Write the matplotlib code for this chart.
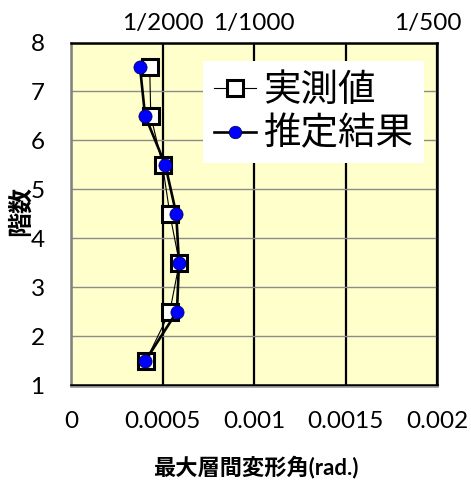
import matplotlib
matplotlib.use("Agg")
import matplotlib.pyplot as plt
from matplotlib.lines import Line2D
from matplotlib.transforms import ScaledTranslation

# Story positions (mid-height of each story) and max inter-story drift angles
story_y = [1.5, 2.5, 3.5, 4.5, 5.5, 6.5, 7.5]
measured = [0.000410, 0.000540, 0.000592, 0.000540, 0.000500, 0.000436, 0.000430]
estimated = [0.000407, 0.000579, 0.000590, 0.000575, 0.000515, 0.000405, 0.000377]

x_ticks = [0, 0.0005, 0.001, 0.0015, 0.002]
x_ticklabels = ["0", "0.0005", "0.001", "0.0015", "0.002"]
top_ticks = [0.0005, 0.001, 0.002]
top_ticklabels = ["1/2000", "1/1000", "1/500"]
y_ticks = [1, 2, 3, 4, 5, 6, 7, 8]

label_measured = "実測値"
label_estimated = "推定結果"
xlabel = "最大層間変形角(rad.)"
ylabel = "階数"

LATIN = ["Lato", "DejaVu Sans"]
CJK = ["Lato", "Noto Sans CJK JP", "DejaVu Sans"]

fig = plt.figure(figsize=(4.71, 4.80), dpi=100)
ax = fig.add_axes([71 / 471, 1 - 385 / 480, 366 / 471, (385 - 42.5) / 480])
ax.set_facecolor("#FFFFCC")

ax.set_xlim(0, 0.002)
ax.set_ylim(1, 8)
ax.set_xticks(x_ticks)
ax.set_xticklabels(x_ticklabels)
ax.set_yticks(y_ticks)
ax.set_yticklabels([str(v) for v in y_ticks])
ax.tick_params(axis="both", length=0, labelsize=17.5, pad=19)
for lab in ax.get_xticklabels() + ax.get_yticklabels():
    lab.set_fontfamily(LATIN)

# grid: black verticals, grey horizontals
ax.xaxis.grid(True, color="black", linewidth=1.6)
ax.yaxis.grid(True, color="#8c8c8c", linewidth=1.0)
ax.set_axisbelow(True)

for side in ("top", "right", "bottom"):
    ax.spines[side].set_color("black")
    ax.spines[side].set_linewidth(1.8)
ax.spines["left"].set_color("#808080")
ax.spines["left"].set_linewidth(1.8)

# thin grey shadow under the plot frame
fig.add_artist(Line2D([71 / 471, 438 / 471], [1 - 387 / 480, 1 - 387 / 480],
                      color="#999999", linewidth=1.2))

ax.plot(measured, story_y, color="black", linewidth=0.8, marker="s",
        markersize=11.5, markerfacecolor="white", markeredgecolor="black",
        markeredgewidth=2.2, label=label_measured, zorder=3)
ax.plot(estimated, story_y, color="black", linewidth=1.9, marker="o",
        markersize=9.5, markerfacecolor="#0000FF", markeredgecolor="#000040",
        markeredgewidth=0.5, label=label_estimated, zorder=4)

# secondary scale on top expressed as drift ratios
top = ax.twiny()
top.set_xlim(ax.get_xlim())
top.set_xticks(top_ticks)
top.set_xticklabels(top_ticklabels)
top.tick_params(axis="x", length=0, labelsize=17.5, pad=6)
for lab in top.get_xticklabels():
    lab.set_fontfamily(LATIN)
top.get_xticklabels()[-1].set_transform(
    top.get_xticklabels()[-1].get_transform()
    + ScaledTranslation(-9 / 100, 0, fig.dpi_scale_trans))
for s in top.spines.values():
    s.set_visible(False)

leg = ax.legend(loc="upper left", bbox_to_anchor=(203 / 471, 1 - 61 / 480),
                bbox_transform=fig.transFigure, prop={"family": CJK, "size": 27},
                frameon=True, fancybox=False, framealpha=1, edgecolor="none",
                facecolor="white", borderpad=0.3, handlelength=1.1,
                handletextpad=0.2, labelspacing=0.2, borderaxespad=0,
                markerscale=0.95)
leg.set_zorder(10)

fig.text(256 / 471, 1 - 467 / 480, xlabel, ha="center", va="center",
         fontsize=16, fontweight="bold", family=CJK)
fig.text(20 / 471, 1 - 211 / 480, ylabel, ha="center", va="center",
         rotation=90, fontsize=18, fontweight="bold", family=CJK)

fig.savefig("out.png", dpi=100)
